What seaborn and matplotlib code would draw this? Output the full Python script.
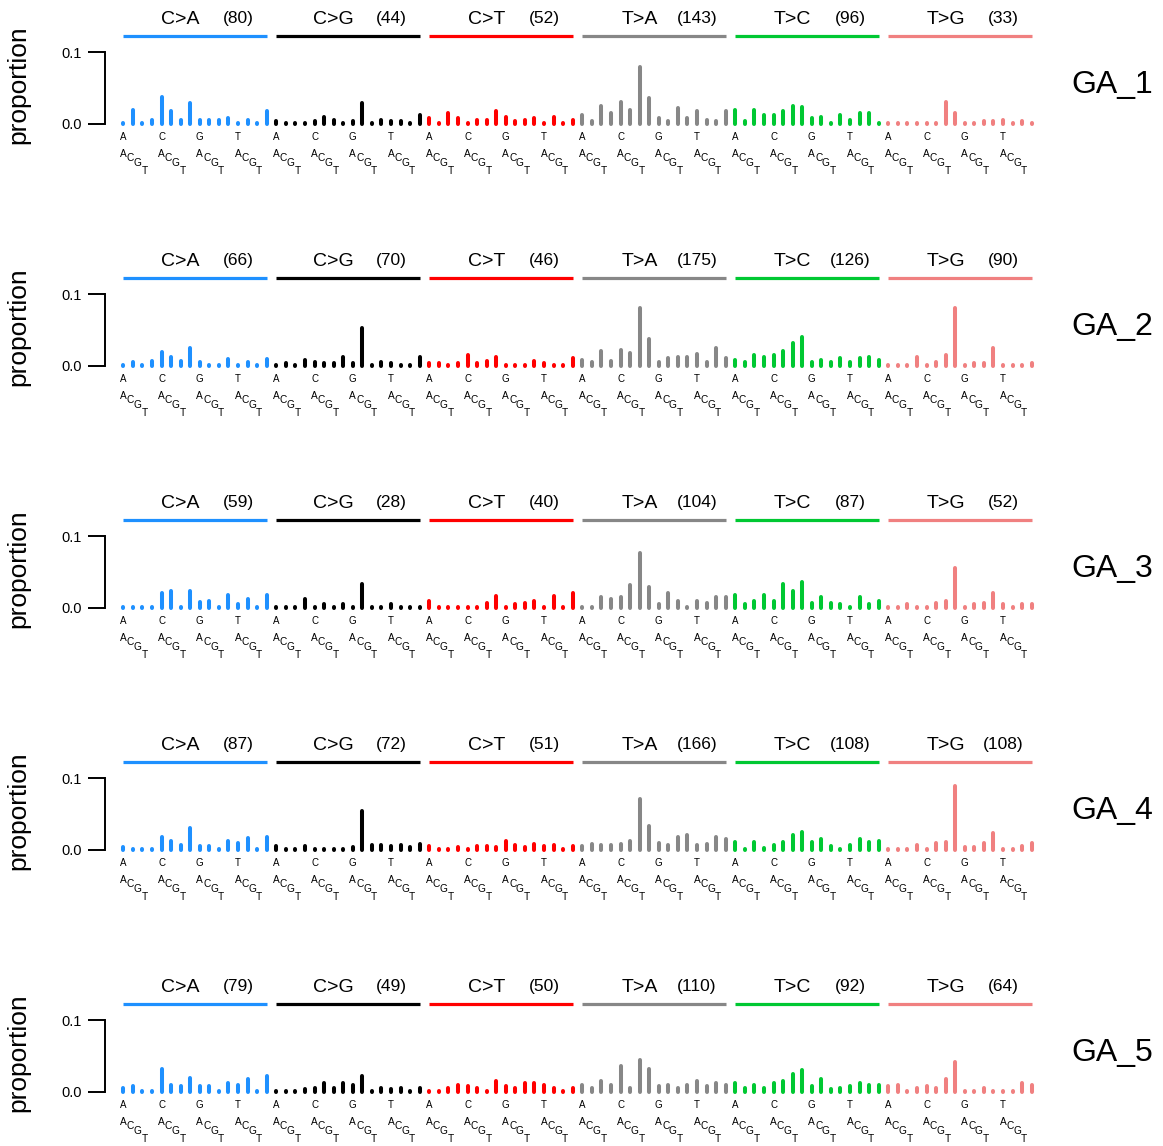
import numpy as np
import pandas as pd
import matplotlib
matplotlib.use("Agg")
import matplotlib.pyplot as plt
import seaborn as sns

# ---------------- data ----------------
mut_types = ["C>A", "C>G", "C>T", "T>A", "T>C", "T>G"]
mut_colors = ["#1E90FF", "#000000", "#FF0000", "#878787", "#00C832", "#F08080"]
bases = ["A", "C", "G", "T"]
signatures = ["GA_1", "GA_2", "GA_3", "GA_4", "GA_5"]

counts_ga1 = [80, 44, 52, 143, 96, 33]
counts_ga2 = [66, 70, 46, 175, 126, 90]
counts_ga3 = [59, 28, 40, 104, 87, 52]
counts_ga4 = [87, 72, 51, 166, 108, 108]
counts_ga5 = [79, 49, 50, 110, 92, 64]

ga1 = [0.001, 0.019, 0.001, 0.0055, 0.037, 0.0175, 0.0055, 0.028, 0.0055, 0.0055, 0.0055, 0.008, 0.001, 0.0055, 0.001, 0.0175,
       0.0035, 0.001, 0.0, 0.001, 0.0035, 0.0095, 0.0055, 0.001, 0.0035, 0.028, 0.0, 0.0055, 0.0035, 0.0035, 0.001, 0.012,
       0.008, 0.0, 0.0145, 0.008, 0.0, 0.0055, 0.0055, 0.0175, 0.0095, 0.0035, 0.0055, 0.008, 0.0, 0.0095, 0.001, 0.0055,
       0.012, 0.0035, 0.025, 0.0145, 0.030, 0.019, 0.0785, 0.035, 0.008, 0.0035, 0.0215, 0.008, 0.0175, 0.0055, 0.0035, 0.0175,
       0.019, 0.0035, 0.019, 0.012, 0.012, 0.0175, 0.025, 0.023, 0.008, 0.0095, 0.0, 0.012, 0.0055, 0.0145, 0.0145, 0.001,
       0.001, 0.0, 0.0, 0.0, 0.001, 0.0, 0.030, 0.0145, 0.0, 0.001, 0.0035, 0.0035, 0.0055, 0.001, 0.0035, 0.0]
ga2 = [0.001, 0.0055, 0.0, 0.0065, 0.019, 0.012, 0.0065, 0.025, 0.0055, 0.001, 0.001, 0.0095, 0.001, 0.0055, 0.0, 0.0095,
       0.001, 0.0035, 0.001, 0.008, 0.0055, 0.0035, 0.0035, 0.0125, 0.0035, 0.053, 0.0, 0.0055, 0.0035, 0.0, 0.001, 0.012,
       0.0035, 0.0035, 0.001, 0.0035, 0.0145, 0.0035, 0.0065, 0.012, 0.001, 0.001, 0.001, 0.0065, 0.0035, 0.001, 0.001, 0.0105,
       0.008, 0.0055, 0.020, 0.0065, 0.0215, 0.0175, 0.080, 0.037, 0.0055, 0.0105, 0.0125, 0.0125, 0.016, 0.0055, 0.025, 0.0105,
       0.008, 0.0055, 0.0145, 0.0125, 0.0145, 0.020, 0.032, 0.0395, 0.0055, 0.008, 0.0055, 0.0105, 0.0055, 0.0105, 0.012, 0.008,
       0.001, 0.0, 0.0, 0.0125, 0.0, 0.0055, 0.0145, 0.080, 0.0, 0.0035, 0.0035, 0.025, 0.001, 0.0, 0.0, 0.0035]
ga3 = [0.001, 0.001, 0.0, 0.0, 0.020, 0.023, 0.001, 0.023, 0.008, 0.0095, 0.001, 0.0175, 0.0055, 0.012, 0.001, 0.0175,
       0.0, 0.0, 0.0, 0.012, 0.001, 0.0045, 0.001, 0.0045, 0.001, 0.0335, 0.0, 0.0, 0.0045, 0.001, 0.0, 0.0,
       0.0095, 0.001, 0.001, 0.001, 0.0, 0.0, 0.0065, 0.0155, 0.0, 0.0045, 0.0065, 0.0095, 0.001, 0.0155, 0.0, 0.020,
       0.001, 0.001, 0.0145, 0.012, 0.0145, 0.031, 0.076, 0.028, 0.0045, 0.020, 0.0095, 0.0, 0.0095, 0.0065, 0.0145, 0.0145,
       0.0175, 0.0045, 0.0095, 0.0175, 0.0095, 0.0335, 0.023, 0.036, 0.0065, 0.0145, 0.0065, 0.0045, 0.001, 0.0145, 0.0045, 0.0095,
       0.0, 0.0, 0.0045, 0.001, 0.001, 0.0065, 0.0095, 0.0555, 0.0, 0.0045, 0.0065, 0.020, 0.0045, 0.001, 0.0045, 0.0045]
ga4 = [0.0035, 0.0, 0.001, 0.0, 0.0175, 0.012, 0.0065, 0.0295, 0.0045, 0.0045, 0.001, 0.012, 0.0095, 0.0155, 0.0, 0.0175,
       0.0045, 0.0, 0.0, 0.0055, 0.0, 0.001, 0.001, 0.001, 0.0035, 0.0545, 0.0065, 0.0065, 0.0055, 0.0065, 0.0035, 0.008,
       0.0055, 0.0, 0.001, 0.0035, 0.001, 0.0045, 0.0055, 0.0035, 0.012, 0.0065, 0.0035, 0.008, 0.0045, 0.0065, 0.001, 0.0055,
       0.0045, 0.008, 0.0065, 0.0065, 0.008, 0.012, 0.0705, 0.0335, 0.0095, 0.0065, 0.0175, 0.020, 0.0065, 0.008, 0.018, 0.0145,
       0.0105, 0.0, 0.0105, 0.002, 0.0065, 0.0105, 0.020, 0.025, 0.0105, 0.0145, 0.0045, 0.0, 0.0065, 0.0145, 0.0105, 0.012,
       0.0, 0.0, 0.0, 0.0065, 0.001, 0.0095, 0.0105, 0.089, 0.0035, 0.0035, 0.0095, 0.023, 0.0, 0.0, 0.0055, 0.0095]
ga5 = [0.0055, 0.008, 0.0, 0.001, 0.032, 0.0095, 0.008, 0.019, 0.008, 0.008, 0.001, 0.012, 0.0095, 0.0175, 0.0, 0.0215,
       0.001, 0.0, 0.001, 0.0035, 0.0055, 0.012, 0.0055, 0.012, 0.0095, 0.0215, 0.0, 0.0055, 0.0035, 0.0055, 0.001, 0.0055,
       0.001, 0.0, 0.0045, 0.0095, 0.008, 0.0045, 0.001, 0.0145, 0.008, 0.0045, 0.012, 0.012, 0.0095, 0.0045, 0.0, 0.0055,
       0.0095, 0.0045, 0.0145, 0.0095, 0.035, 0.0045, 0.044, 0.032, 0.008, 0.0095, 0.0045, 0.0095, 0.0145, 0.008, 0.012, 0.0095,
       0.012, 0.0045, 0.0095, 0.0055, 0.012, 0.0145, 0.025, 0.030, 0.008, 0.0175, 0.0035, 0.0055, 0.008, 0.012, 0.0095, 0.0095,
       0.008, 0.0095, 0.001, 0.0045, 0.008, 0.0045, 0.0175, 0.0415, 0.001, 0.001, 0.0045, 0.001, 0.001, 0.001, 0.012, 0.0095]

panel_values = [ga1, ga2, ga3, ga4, ga5]
panel_counts = [counts_ga1, counts_ga2, counts_ga3, counts_ga4, counts_ga5]

# ---------------- style ----------------
sns.set_theme(style="white")
plt.rcParams["font.family"] = ["Liberation Sans", "DejaVu Sans"]

W, H = 1163, 1146
fig = plt.figure(figsize=(W / 100, H / 100), dpi=100)

ax_left_px, ax_right_px = 105, 1040
top_px0, base_px0 = 52.0, 123.5
step = 242
x0_px, dx_px = 123.3, 9.562
xlim_lo = -(x0_px - ax_left_px) / dx_px
xlim_hi = 95 + (ax_right_px - (x0_px + 95 * dx_px)) / dx_px
ppx = 0.1 / (base_px0 - top_px0)  # data units per pixel (y)
min_visible = 0.0002  # so that zero-height bars still show as a round dot

for k, (vals, cnts, sig) in enumerate(zip(panel_values, panel_counts, signatures)):
    off = k * step
    top_px = top_px0 + off
    base_px = base_px0 + off
    ax = fig.add_axes([ax_left_px / W, 1 - base_px / H,
                       (ax_right_px - ax_left_px) / W, (base_px - top_px) / H])

    rows = []
    for i, v in enumerate(vals):
        t = mut_types[i // 16]
        rows.append({"x": i, "y": 0.0, "bar": i, "type": t})
        rows.append({"x": i, "y": max(v, min_visible), "bar": i, "type": t})
    df = pd.DataFrame(rows)

    sns.lineplot(data=df, x="x", y="y", hue="type", hue_order=mut_types,
                 palette=mut_colors, units="bar", estimator=None, sort=False,
                 linewidth=2.9, solid_capstyle="round", legend=False, ax=ax)
    for ln in ax.lines:
        ln.set_clip_on(False)

    ax.set_xlim(xlim_lo, xlim_hi)
    ax.set_ylim(0, 0.1)
    ax.set_xlabel("")
    ax.set_ylabel("")
    ax.set_xticks([])
    ax.set_yticks([0, 0.1])
    ax.set_yticklabels(["0.0", "0.1"])
    for s in ["top", "right", "bottom"]:
        ax.spines[s].set_visible(False)
    ax.spines["left"].set_visible(True)
    ax.spines["left"].set_color("black")
    ax.spines["left"].set_linewidth(1.4)
    ax.spines["left"].set_bounds(0, 0.1)
    ax.tick_params(axis="y", left=True, length=12, width=1.4, direction="out",
                   pad=5, labelsize=10.5, colors="black")
    ax.patch.set_alpha(0)

    # strip labels on top
    y_line = 0.1 + 16 * ppx
    y_lab = 0.1 + 33 * ppx
    for g, (t, c, n) in enumerate(zip(mut_types, mut_colors, cnts)):
        ax.plot([g * 16, g * 16 + 15], [y_line, y_line], color=c, lw=2.3,
                solid_capstyle="butt", clip_on=False)
        ax.text(g * 16 + 6, y_lab, t, ha="center", va="center", fontsize=14,
                color="black", clip_on=False)
        ax.text(g * 16 + 12, y_lab, f"({n})", ha="center", va="center",
                fontsize=12.5, color="black", clip_on=False)

    # context letters below
    row2_offsets = [30.5, 34.5, 40.0, 47.0]
    for g in range(6):
        for j, b in enumerate(bases):
            xb = g * 16 + j * 4
            ax.text(xb, -13.5 * ppx, b, ha="center", va="center", fontsize=7,
                    color="black", clip_on=False)
            for m, b2 in enumerate(bases):
                ax.text(xb + m * 0.74, -row2_offsets[m] * ppx, b2, ha="center",
                        va="center", fontsize=7.3, color="black", clip_on=False)

    fig.text(18 / W, 1 - (85 + off) / H, "proportion", rotation=90,
             ha="center", va="center", fontsize=19, color="black")
    fig.text(1112 / W, 1 - (85 + off) / H, sig, ha="center", va="center",
             fontsize=23, color="black")

fig.savefig("out.png", dpi=100)
